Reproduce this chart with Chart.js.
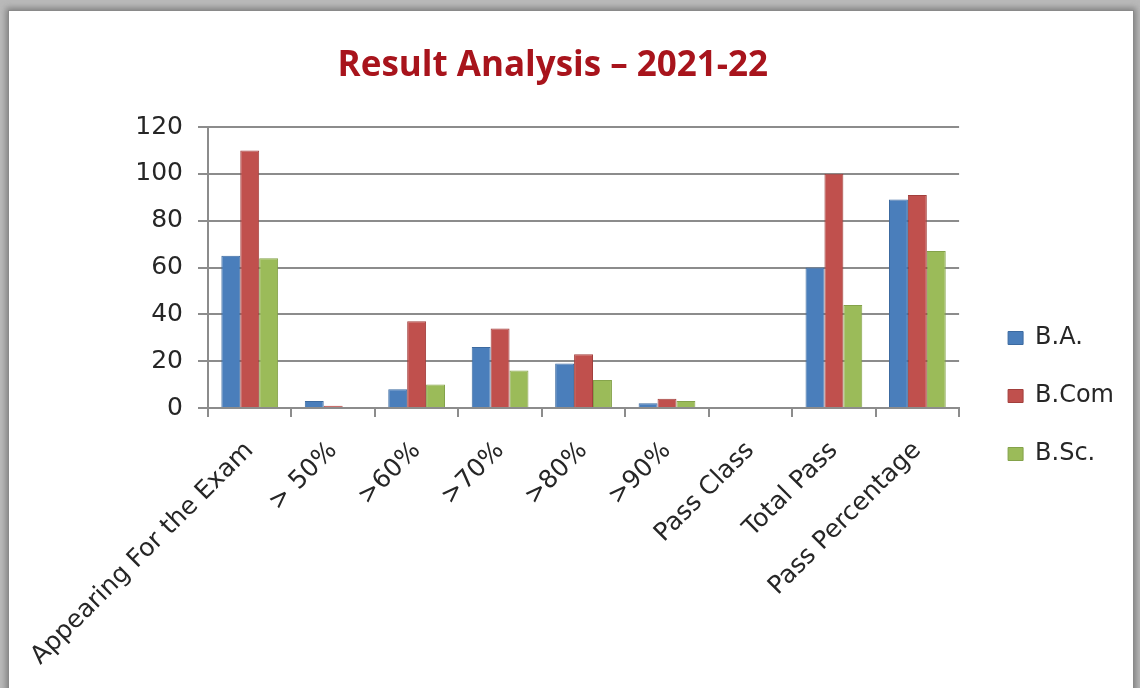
<!DOCTYPE html>
<html>
<head>
<meta charset="utf-8">
<script src="https://cdn.jsdelivr.net/npm/chart.js@4"></script>
<style>
  html, body { margin: 0; padding: 0; }
  body { width: 1140px; height: 688px; background: #b9b9b9; overflow: hidden; position: relative; }
  .panel {
    position: absolute; left: 8px; top: 10px; width: 1124px; height: 690px;
    background: #fff; border: 1px solid #8a8a8a;
    box-shadow: 0 0 6px 2px rgba(90, 90, 90, 0.6);
  }
  .wrap { position: relative; width: 1124px; height: 678px; }
</style>
</head>
<body>
<div class="panel"><div class="wrap"><canvas id="resultChart"></canvas></div></div>
<script>
const categories = ["Appearing For the Exam", "> 50%", ">60%", ">70%", ">80%", ">90%", "Pass Class", "Total Pass", "Pass Percentage"];
const baValues = [65, 3, 8, 26, 19, 2, 0, 60, 89];
const bcomValues = [110, 1, 37, 34, 23, 4, 0, 100, 91];
const bscValues = [64, 0, 10, 16, 12, 3, 0, 44, 67];

const tickFont = "'DejaVu Sans', sans-serif";
const titleFont = "'Open Sans', 'DejaVu Sans', sans-serif";
const textColor = "#262626";

const resultChartCanvas = document.getElementById("resultChart");

if (resultChartCanvas) {
  new Chart(resultChartCanvas, {
    type: "bar",
    data: {
      labels: categories,
      datasets: [
        {
          label: "B.A.",
          data: baValues,
          backgroundColor: "#4a7ebb",
          borderColor: "#3c6aa0",
          borderWidth: 1
        },
        {
          label: "B.Com",
          data: bcomValues,
          backgroundColor: "#c0504d",
          borderColor: "#a23f3c",
          borderWidth: 1
        },
        {
          label: "B.Sc.",
          data: bscValues,
          backgroundColor: "#9bbb59",
          borderColor: "#84a24a",
          borderWidth: 1
        }
      ]
    },
    options: {
      responsive: true,
      maintainAspectRatio: false,
      animation: false,
      datasets: {
        bar: {
          categoryPercentage: 0.68,
          barPercentage: 1
        }
      },
      layout: {
        padding: { left: 0, right: 9, top: 0, bottom: 0 }
      },
      plugins: {
        title: {
          display: true,
          // trailing spaces pull the centred title a bit to the left, like the original
          text: "Result Analysis \u2013 2021-22\u00a0\u00a0\u00a0",
          color: "#a8141c",
          font: { family: titleFont, size: 35, weight: "bold" },
          padding: { top: 34, bottom: 40 }
        },
        legend: {
          position: "right",
          title: {
            display: true,
            text: " ",
            font: { size: 10 },
            padding: { top: 80, bottom: 0 }
          },
          labels: {
            color: textColor,
            font: { family: tickFont, size: 24 },
            boxWidth: 15,
            boxHeight: 13,
            padding: 34
          }
        },
        tooltip: {
          enabled: false
        }
      },
      scales: {
        y: {
          min: 0,
          max: 120,
          ticks: {
            stepSize: 20,
            color: textColor,
            padding: 15,
            font: { family: tickFont, size: 25 }
          },
          grid: {
            color: "#8c8c8c",
            lineWidth: 2,
            tickLength: 10
          },
          border: {
            color: "#8c8c8c",
            width: 2
          },
          afterFit: function(scale) {
            scale.width = 199;
          }
        },
        // empty axis on the right, only keeps a gap before the legend
        gap: {
          type: "linear",
          position: "right",
          grid: { display: false },
          border: { display: false },
          ticks: { display: false },
          afterFit: function(scale) {
            scale.width = 15;
          }
        },
        x: {
          ticks: {
            color: textColor,
            minRotation: 45,
            maxRotation: 45,
            padding: 19,
            font: { family: tickFont, size: 25 }
          },
          grid: {
            offset: true,
            drawOnChartArea: false,
            color: "#8c8c8c",
            lineWidth: 2,
            tickLength: 9
          },
          border: {
            color: "#8c8c8c",
            width: 2
          },
          afterFit: function(scale) {
            scale.height = 281;
            scale.paddingLeft = 0;
            scale.paddingRight = 0;
          }
        }
      }
    }
  });
}
</script>
</body>
</html>
